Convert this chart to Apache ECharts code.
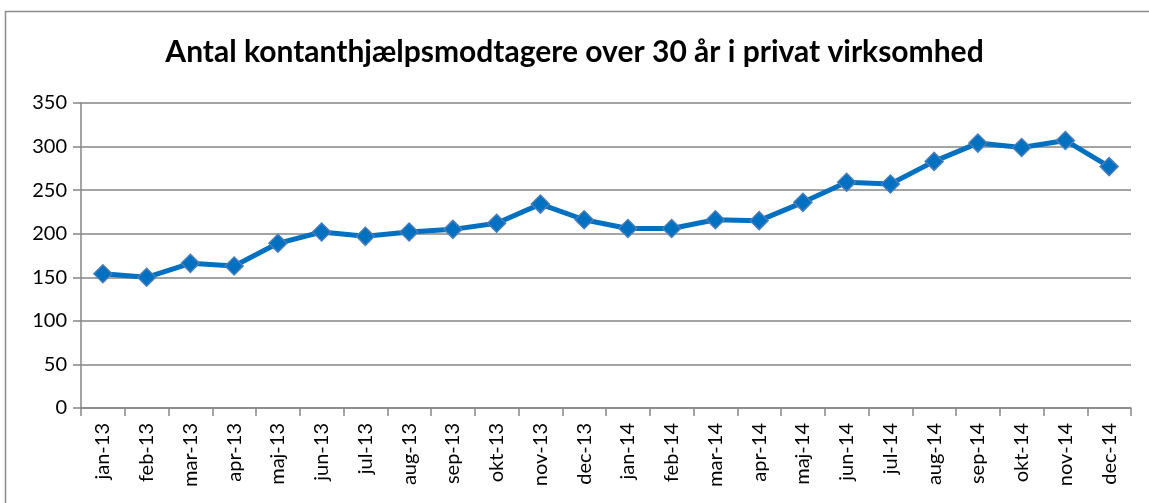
<!DOCTYPE html>
<html><head><meta charset="utf-8">
<script src="https://cdn.jsdelivr.net/npm/echarts@6/dist/echarts.min.js"></script>
<style>html,body{margin:0;padding:0;background:#fff}#c{width:1149px;height:503px;position:relative}</style>
</head><body><div id="c"></div>
<script>
const title = "Antal kontanthjælpsmodtagere over 30 år i privat virksomhed";
const categories = ["jan-13","feb-13","mar-13","apr-13","maj-13","jun-13","jul-13","aug-13","sep-13","okt-13","nov-13","dec-13","jan-14","feb-14","mar-14","apr-14","maj-14","jun-14","jul-14","aug-14","sep-14","okt-14","nov-14","dec-14"];
const values = [154,150,166,163,189,202,197,202,205,212,234,216,206,206,216,215,236,259,257,283,304,299,307,277];
const yTicks = {min:0, max:350, interval:50};

const chart = echarts.init(document.getElementById('c'), null, {renderer:'canvas'});
chart.setOption({
  animation:false,
  backgroundColor:'#fff',
  title:{text:title, left:'center', top:32, textStyle:{fontFamily:'Lato', fontWeight:'bold', fontSize:30, color:'#000'}},
  graphic:[{type:'rect', shape:{x:5.5,y:11.5,width:1200,height:600}, style:{fill:'none', stroke:'#8c8c8c', lineWidth:1.5}, silent:true}],
  grid:{left:81, right:18, top:103, bottom:95, containLabel:false},
  xAxis:{type:'category', data:categories, boundaryGap:true,
    axisLine:{lineStyle:{color:'#868686', width:1.5}},
    axisTick:{show:true, length:8, alignWithLabel:false, lineStyle:{color:'#868686', width:1.5}},
    axisLabel:{rotate:90, interval:0, margin:15, fontFamily:'Lato', fontSize:20, color:'#000'},
    splitLine:{show:false}},
  yAxis:{type:'value', min:yTicks.min, max:yTicks.max, interval:yTicks.interval,
    axisLine:{show:true, lineStyle:{color:'#868686', width:1.5}},
    axisTick:{show:true, length:8, lineStyle:{color:'#868686', width:1.5}},
    axisLabel:{fontFamily:'Lato', fontSize:20, color:'#000', margin:14},
    splitLine:{show:true, lineStyle:{color:'#868686', width:1.5}}},
  series:[{type:'line', data:values, symbol:'diamond', symbolSize:18,
    lineStyle:{color:'#0070C0', width:5},
    itemStyle:{color:'#0070C0', borderColor:'#4A7EBB', borderWidth:1.5}}]
});
</script></body></html>
